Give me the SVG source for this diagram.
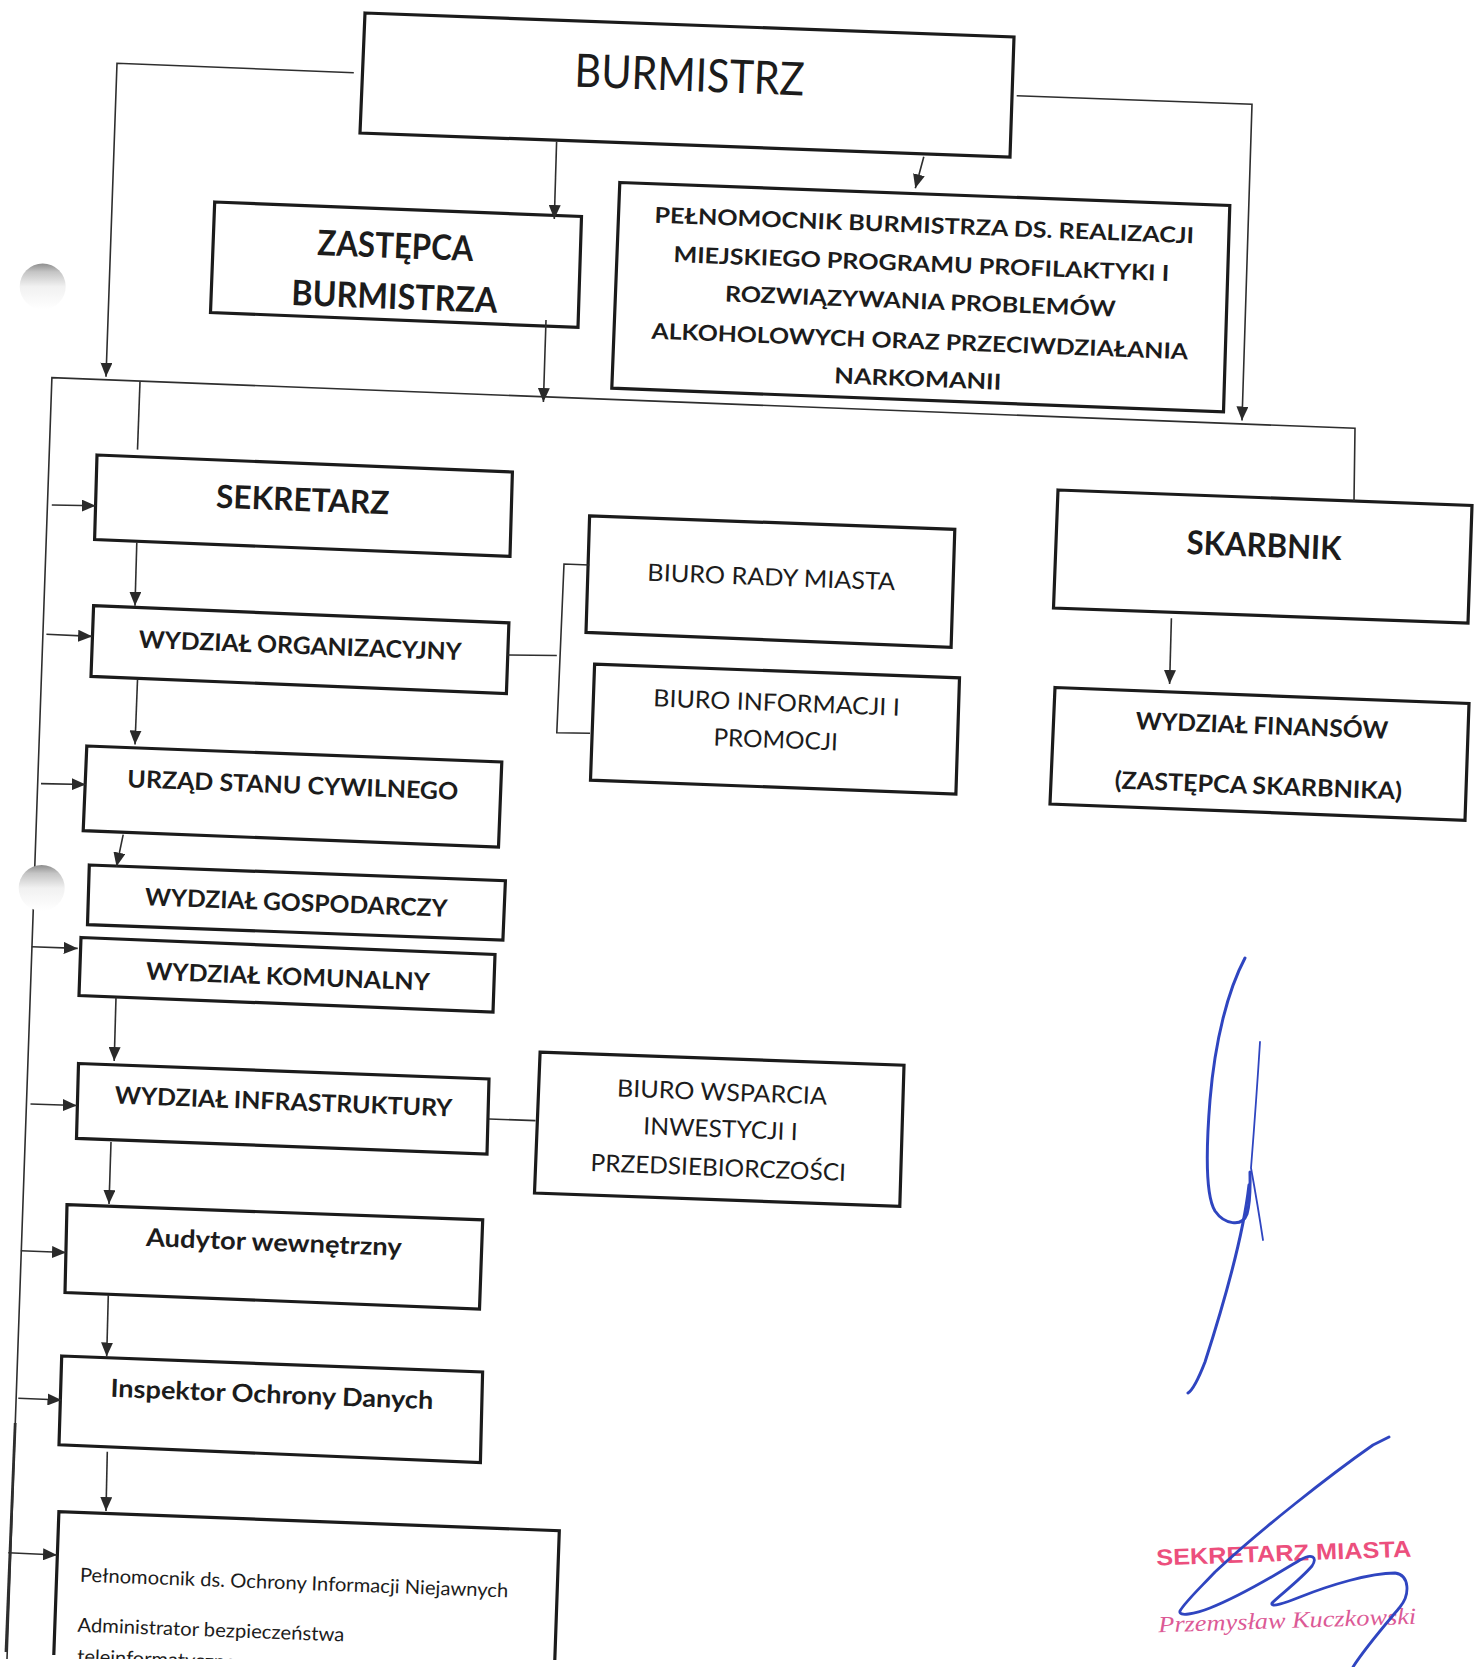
<svg xmlns="http://www.w3.org/2000/svg" width="1483" height="1667" viewBox="0 0 1483 1667">
<style>
.box{fill:none;stroke:#1b1b1b;stroke-width:3.2;stroke-linejoin:miter}
.ln{fill:none;stroke:#2e2e2e;stroke-width:1.6}
.arr{fill:none;stroke:#2e2e2e;stroke-width:1.6;marker-end:url(#ah)}
.t{font-family:Lato,"Liberation Sans",sans-serif;fill:#1c1c1c;text-anchor:middle}
.b{font-weight:bold}
.s{text-anchor:start}
.sig{fill:none;stroke:#2f45c0;stroke-linecap:round;stroke-linejoin:round}
</style>
<defs>
<marker id="ah" viewBox="0 0 14 12" refX="14" refY="6" markerWidth="14" markerHeight="12" markerUnits="userSpaceOnUse" orient="auto"><path d="M0,0 L14,6 L0,12 z" fill="#2a2a2a"/></marker>
<linearGradient id="hole" x1="0" y1="0" x2="0" y2="1">
<stop offset="0" stop-color="#8e8e8e"/>
<stop offset="0.18" stop-color="#c4c4c4"/>
<stop offset="0.5" stop-color="#f1f1f1"/>
<stop offset="1" stop-color="#ffffff"/>
</linearGradient>
<clipPath id="pageclip"><rect x="0" y="0" width="1483" height="1659"/></clipPath>
</defs>
<rect width="1483" height="1667" fill="#ffffff"/>

<g id="n-burmistrz">
<polygon class="box" points="365,13 1014,37 1010,157 360,133"/>
<text class="t" x="689" y="91" font-size="46" textLength="230" lengthAdjust="spacingAndGlyphs" transform="rotate(2.2 689 91)">BURMISTRZ</text>
</g>
<g id="n-zastepca">
<polygon class="box" points="214.7,202 581.5,216.5 578,327.4 210.5,312.5"/>
<text class="t b" x="395" y="258" font-size="35" textLength="156" lengthAdjust="spacingAndGlyphs" transform="rotate(2.2 395 258)">ZASTĘPCA</text>
<text class="t b" x="394" y="309" font-size="35" textLength="206" lengthAdjust="spacingAndGlyphs" transform="rotate(2.2 394 309)">BURMISTRZA</text>
</g>
<g id="n-pelnomocnik-burmistrza">
<polygon class="box" points="619.8,182.5 1229.8,205.5 1223.5,411.8 611.8,388.2"/>
<text class="t b" x="924" y="233" font-size="22" textLength="540" lengthAdjust="spacingAndGlyphs" transform="rotate(2.2 924 233)">PEŁNOMOCNIK BURMISTRZA DS. REALIZACJI</text>
<text class="t b" x="921" y="271.5" font-size="22" textLength="496" lengthAdjust="spacingAndGlyphs" transform="rotate(2.2 921 271.5)">MIEJSKIEGO PROGRAMU PROFILAKTYKI I</text>
<text class="t b" x="920" y="309" font-size="22" textLength="391" lengthAdjust="spacingAndGlyphs" transform="rotate(2.2 920 309)">ROZWIĄZYWANIA PROBLEMÓW</text>
<text class="t b" x="919.5" y="349" font-size="22" textLength="537" lengthAdjust="spacingAndGlyphs" transform="rotate(2.2 919.5 349)">ALKOHOLOWYCH ORAZ PRZECIWDZIAŁANIA</text>
<text class="t b" x="917.5" y="386.5" font-size="22" textLength="167" lengthAdjust="spacingAndGlyphs" transform="rotate(2.2 917.5 386.5)">NARKOMANII</text>
</g>
<g id="n-sekretarz">
<polygon class="box" points="97,455 512.4,472 510,556.4 94.6,539.5"/>
<text class="t b" x="302.3" y="511" font-size="32" textLength="173" lengthAdjust="spacingAndGlyphs" transform="rotate(2.2 302.3 511)">SEKRETARZ</text>
</g>
<g id="n-organizacyjny">
<polygon class="box" points="93.6,605.7 508.9,622.9 506.4,693.6 91,676.4"/>
<text class="t b" x="300" y="654" font-size="24" textLength="323" lengthAdjust="spacingAndGlyphs" transform="rotate(2.2 300 654)">WYDZIAŁ ORGANIZACYJNY</text>
</g>
<g id="n-usc">
<polygon class="box" points="86.8,746 501.8,762 498.5,847 83.2,830.7"/>
<text class="t b" x="292.5" y="793.5" font-size="24" textLength="331" lengthAdjust="spacingAndGlyphs" transform="rotate(2.2 292.5 793.5)">URZĄD STANU CYWILNEGO</text>
</g>
<g id="n-gospodarczy">
<polygon class="box" points="89.3,865 505.4,880.7 502.9,940 87.5,924.6"/>
<text class="t b" x="296" y="911" font-size="24" textLength="302.5" lengthAdjust="spacingAndGlyphs" transform="rotate(2.2 296 911)">WYDZIAŁ GOSPODARCZY</text>
</g>
<g id="n-komunalny">
<polygon class="box" points="81,937.5 495,954.5 493,1012 79,995.5"/>
<text class="t b" x="287.6" y="985" font-size="24" textLength="284" lengthAdjust="spacingAndGlyphs" transform="rotate(2.2 287.6 985)">WYDZIAŁ KOMUNALNY</text>
</g>
<g id="n-infrastruktury">
<polygon class="box" points="78.5,1063.5 489,1079 487,1154 76.5,1138.4"/>
<text class="t b" x="283.3" y="1110" font-size="24" textLength="337.6" lengthAdjust="spacingAndGlyphs" transform="rotate(2.2 283.3 1110)">WYDZIAŁ INFRASTRUKTURY</text>
</g>
<g id="n-audytor">
<polygon class="box" points="67,1204.7 482.7,1219.8 479.5,1309 65,1292.5"/>
<text class="t b" x="273.6" y="1251" font-size="25" textLength="256" lengthAdjust="spacingAndGlyphs" transform="rotate(2.2 273.6 1251)">Audytor wewnętrzny</text>
</g>
<g id="n-inspektor">
<polygon class="box" points="61.7,1356 482.6,1372 480.4,1462.5 59,1444.8"/>
<text class="t b" x="271.6" y="1403" font-size="25" textLength="323" lengthAdjust="spacingAndGlyphs" transform="rotate(2.2 271.6 1403)">Inspektor Ochrony Danych</text>
</g>
<g id="n-pelnomocnik-oin">
<polyline class="box" points="53.8,1655 58.9,1511.7 559.3,1530.7 554.8,1660"/>
<g clip-path="url(#pageclip)">
<text class="t s" x="79.7" y="1581.7" font-size="19.5" textLength="428.6" lengthAdjust="spacingAndGlyphs" transform="rotate(2.1 79.7 1581.7)">Pełnomocnik ds. Ochrony Informacji Niejawnych</text>
<text class="t s" x="77.2" y="1631.7" font-size="19.5" textLength="267" lengthAdjust="spacingAndGlyphs" transform="rotate(2.1 77.2 1631.7)">Administrator bezpieczeństwa</text>
<text class="t s" x="77" y="1663" font-size="19.5" textLength="180" lengthAdjust="spacingAndGlyphs" transform="rotate(2.1 77 1663)">teleinformatycznego</text>
</g>
</g>
<g id="n-biuro-rady">
<polygon class="box" points="589.6,515.8 954.8,529.4 951.1,647.4 586,632.4"/>
<text class="t" x="771" y="585.5" font-size="24" textLength="248" lengthAdjust="spacingAndGlyphs" transform="rotate(2.2 771 585.5)">BIURO RADY MIASTA</text>
</g>
<g id="n-biuro-informacji">
<polygon class="box" points="594.6,664.2 959.5,677.8 955.9,794 590.5,780.2"/>
<text class="t" x="776.3" y="711" font-size="24" textLength="246.6" lengthAdjust="spacingAndGlyphs" transform="rotate(2.2 776.3 711)">BIURO INFORMACJI I</text>
<text class="t" x="775.4" y="748" font-size="24" textLength="124.4" lengthAdjust="spacingAndGlyphs" transform="rotate(2.2 775.4 748)">PROMOCJI</text>
</g>
<g id="n-skarbnik">
<polygon class="box" points="1058,490 1472,505.5 1468,623 1053.5,608"/>
<text class="t b" x="1263.7" y="557" font-size="33" textLength="155" lengthAdjust="spacingAndGlyphs" transform="rotate(2.2 1263.7 557)">SKARBNIK</text>
</g>
<g id="n-finansow">
<polygon class="box" points="1055,687.5 1469,703.5 1465,820.3 1050,804"/>
<text class="t b" x="1261.6" y="734" font-size="24" textLength="252.6" lengthAdjust="spacingAndGlyphs" transform="rotate(2.2 1261.6 734)">WYDZIAŁ FINANSÓW</text>
<text class="t b" x="1258" y="794" font-size="24" textLength="287.4" lengthAdjust="spacingAndGlyphs" transform="rotate(2.2 1258 794)">(ZASTĘPCA SKARBNIKA)</text>
</g>
<g id="n-biuro-wsparcia">
<polygon class="box" points="540.1,1052.2 904,1065.2 899.8,1206.4 534.5,1193"/>
<text class="t" x="721.7" y="1100.5" font-size="24" textLength="210" lengthAdjust="spacingAndGlyphs" transform="rotate(2.2 721.7 1100.5)">BIURO WSPARCIA</text>
<text class="t" x="720.2" y="1137.2" font-size="24" textLength="154.4" lengthAdjust="spacingAndGlyphs" transform="rotate(2.2 720.2 1137.2)">INWESTYCJI I</text>
<text class="t" x="717.9" y="1176" font-size="24" textLength="255.5" lengthAdjust="spacingAndGlyphs" transform="rotate(2.2 717.9 1176)">PRZEDSIEBIORCZOŚCI</text>
</g>

<g id="connectors">
<path class="arr" d="M353.8,72.7 L117,63.3 L106,376.7"/>
<path class="arr" d="M556.6,141.7 L554.3,219"/>
<path class="arr" d="M923.8,156.7 L915.3,188.3"/>
<path class="arr" d="M1016.7,95.7 L1252,104.3 L1242,420.5"/>
<path class="arr" d="M546,320 L543.4,402"/>
<path class="ln" d="M1354,501 L1355,428.3 L51.9,377.7 L7,1659"/>
<path class="ln" d="M140,381.5 L137.5,449.6"/>
<path class="ln" style="stroke-width:2.8" d="M15.2,1423 L6,1652"/>
<path class="arr" d="M51.8,505 L95.7,505.8"/>
<path class="arr" d="M46.4,634.3 L92.1,636.4"/>
<path class="arr" d="M41,783.6 L85.7,784.5"/>
<path class="arr" d="M31.7,946.7 L77.7,948.4"/>
<path class="arr" d="M30.5,1104 L76.8,1105.5"/>
<path class="arr" d="M20.8,1250.8 L66,1252.5"/>
<path class="arr" d="M18.3,1398.3 L61.5,1400"/>
<path class="arr" d="M8.3,1552.7 L57,1555"/>
<path class="arr" d="M136.8,542.5 L135,605.8"/>
<path class="arr" d="M137.5,680 L135,744.5"/>
<path class="arr" d="M123.2,834.6 L116.5,866.5"/>
<path class="arr" d="M116,997.5 L114.2,1061"/>
<path class="arr" d="M111,1142 L109,1204"/>
<path class="arr" d="M108.3,1295 L106.7,1356.5"/>
<path class="arr" d="M107.3,1451.7 L106,1511"/>
<path class="arr" d="M1171.4,618.3 L1169.6,684"/>
<path class="ln" d="M507.5,655 L556.8,655.5"/>
<path class="ln" d="M589.3,565 L564,564 L556.8,732.7 L590,733.3"/>
<path class="ln" d="M489,1119 L535.5,1120.6"/>
</g>

<g id="scan-marks">
<circle cx="42.7" cy="286.5" r="23" fill="url(#hole)"/>
<circle cx="41.7" cy="888" r="23" fill="url(#hole)"/>
</g>

<g id="signature">
<path class="sig" stroke-width="3" d="M1245,958 C1228,990 1215,1040 1210,1100 C1206,1150 1205,1195 1215,1211 C1224,1224 1242,1228 1247,1214 C1251,1200 1250,1180 1250,1172"/>
<path class="sig" stroke-width="3" d="M1249,1185 C1244,1230 1225,1300 1205,1362 C1198,1380 1193,1390 1188,1393"/>
<path class="sig" stroke-width="1.8" d="M1260,1042 C1257,1090 1254,1130 1251,1168 C1255,1190 1260,1220 1263,1240"/>
</g>
<g id="stamp">
<text x="1284" y="1561" font-family="'Liberation Sans',Arial,sans-serif" font-weight="bold" font-size="23" fill="#ec4f7d" text-anchor="middle" textLength="255" lengthAdjust="spacingAndGlyphs" transform="rotate(-2 1284 1561)">SEKRETARZ MIASTA</text>
<text x="1287.5" y="1628" font-family="'Liberation Serif','Times New Roman',serif" font-style="italic" font-size="23" fill="#dc5a96" text-anchor="middle" textLength="258" lengthAdjust="spacingAndGlyphs" transform="rotate(-1.9 1287.5 1628)">Przemysław Kuczkowski</text>
<path class="sig" stroke-width="2.8" d="M1389,1437 L1373,1445 C1330,1475 1260,1530 1215,1572 C1200,1588 1185,1602 1180,1611 C1178,1617 1195,1614 1210,1608 C1245,1594 1280,1572 1300,1560 C1312,1553 1318,1557 1312,1566 C1300,1580 1280,1595 1272,1603 C1270,1608 1285,1603 1300,1597 C1330,1585 1370,1573 1395,1573 C1410,1575 1410,1595 1400,1607 C1385,1625 1365,1648 1353,1667"/>
</g>
</svg>
